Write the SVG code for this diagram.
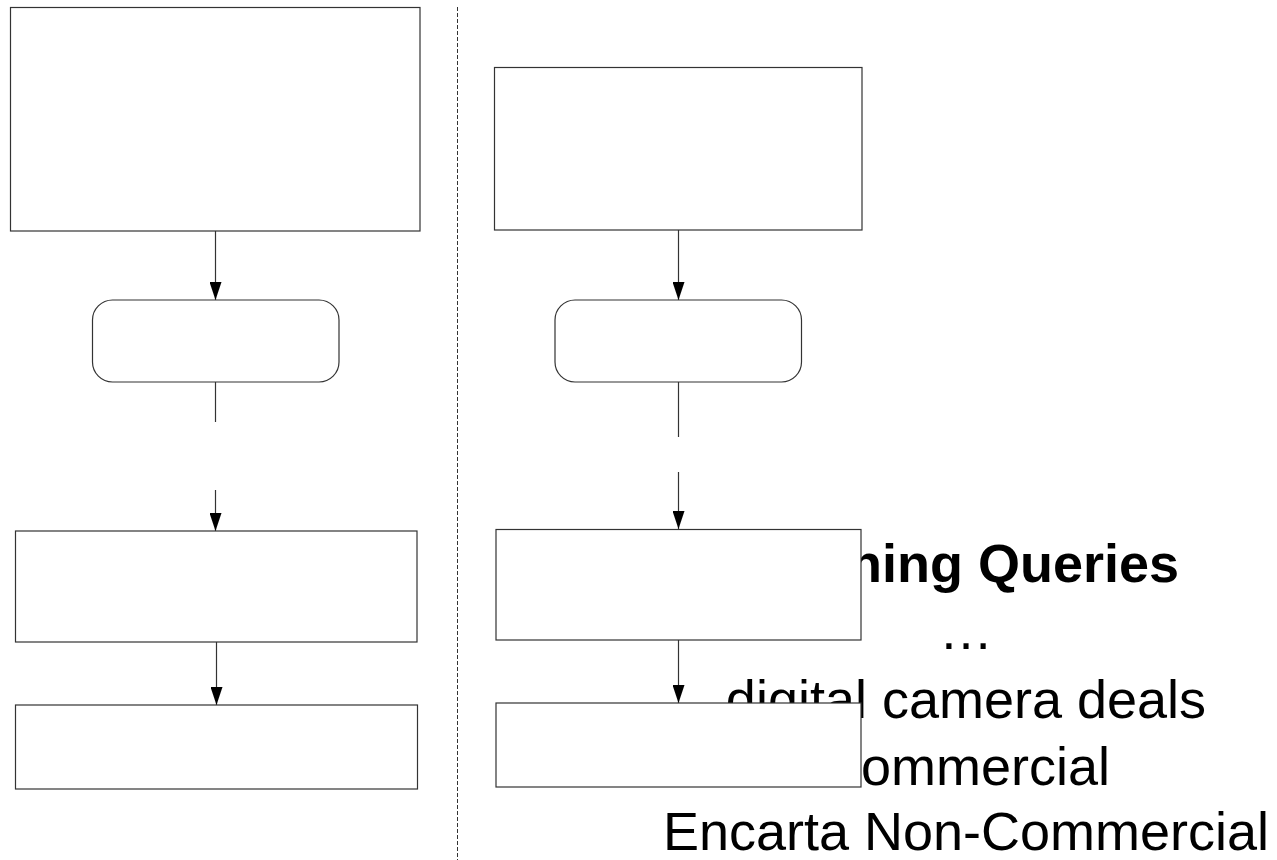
<svg xmlns="http://www.w3.org/2000/svg" width="1277" height="860" viewBox="0 0 1277 860">
<style>
.box{fill:#ffffff;stroke:#333333;stroke-width:1.2}
.conn{stroke:#333333;stroke-width:1.2;fill:none}
.txt{font-family:"Liberation Sans",Arial,sans-serif;font-size:54px;fill:#000000;text-anchor:middle}
.bold{font-weight:bold}
.sep{stroke:#333333;stroke-width:1;stroke-dasharray:4 2;fill:none}
</style>
<defs>
<marker id="arr" markerUnits="userSpaceOnUse" markerWidth="18" markerHeight="12" refX="18" refY="6" viewBox="0 0 18 12" orient="auto">
<path d="M0,0 L18,6 L0,12 Z" fill="#000000"/>
</marker>
</defs>
<rect x="0" y="0" width="1277" height="860" fill="#ffffff"/>
<g id="query-list">
<text class="txt bold" x="966" y="582">Training Queries</text>
<text class="txt" x="966" y="649">…</text>
<text class="txt" x="966" y="718">digital camera deals</text>
<text class="txt" x="966" y="785">Commercial</text>
<text class="txt" x="966" y="850">Encarta Non-Commercial</text>
</g>
<g id="separator">
<line class="sep" x1="457.5" y1="7" x2="457.5" y2="860"/>
</g>
<g id="connectors">
<line class="conn" x1="215.5" y1="231" x2="215.5" y2="300" marker-end="url(#arr)"/>
<line class="conn" x1="215.5" y1="382" x2="215.5" y2="422"/>
<line class="conn" x1="215.5" y1="490" x2="215.5" y2="531" marker-end="url(#arr)"/>
<line class="conn" x1="216.5" y1="642" x2="216.5" y2="705" marker-end="url(#arr)"/>
<line class="conn" x1="678.5" y1="230" x2="678.5" y2="300" marker-end="url(#arr)"/>
<line class="conn" x1="678.5" y1="382" x2="678.5" y2="437"/>
<line class="conn" x1="678.5" y1="472" x2="678.5" y2="529" marker-end="url(#arr)"/>
<line class="conn" x1="678.5" y1="640" x2="678.5" y2="703" marker-end="url(#arr)"/>
</g>
<g id="left-box-1"><rect class="box" x="10.5" y="7.5" width="409.5" height="223.5"/></g>
<g id="left-rounded"><rect class="box" x="92.5" y="300" width="246.5" height="82" rx="20" ry="20"/></g>
<g id="left-box-3"><rect class="box" x="15.5" y="531" width="401.5" height="111"/></g>
<g id="left-box-4"><rect class="box" x="15.5" y="705" width="402" height="84"/></g>
<g id="right-box-1"><rect class="box" x="494.5" y="67.5" width="367.5" height="162.5"/></g>
<g id="right-rounded"><rect class="box" x="555" y="300" width="246.5" height="82" rx="20" ry="20"/></g>
<g id="right-box-3"><rect class="box" x="496" y="529.5" width="365" height="110.5"/></g>
<g id="right-box-4"><rect class="box" x="496" y="703" width="365" height="84"/></g>
</svg>
